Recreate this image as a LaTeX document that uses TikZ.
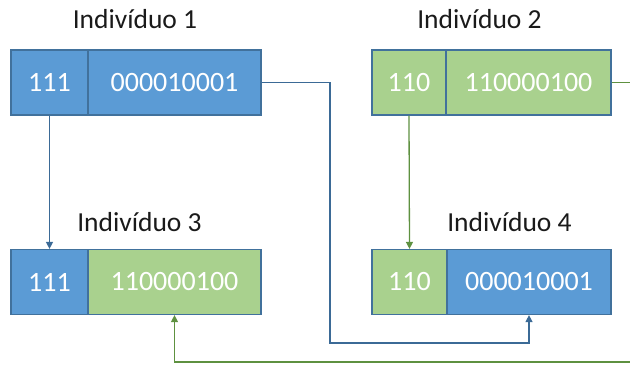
\documentclass[tikz,border=0pt]{standalone}
\usepackage{fontspec}
\setmainfont{Carlito}
\usetikzlibrary{arrows.meta}
\definecolor{cellblue}{HTML}{5B9BD5}
\definecolor{cellgreen}{HTML}{A9D18E}
\definecolor{celledge}{HTML}{41719C}
\definecolor{wireblue}{HTML}{3B6A96}
\definecolor{wiregreen}{HTML}{5E9140}
\definecolor{labeltext}{HTML}{1A1A1A}
\begin{document}
\begin{tikzpicture}[x=1pt,y=-1pt,
  cell/.style={draw=celledge, line width=1.2pt, inner sep=0pt,
    minimum height=65pt, text=white,
    font=\fontsize{28}{28}\selectfont},
  bluecell/.style={cell, fill=cellblue},
  greencell/.style={cell, fill=cellgreen},
  title/.style={anchor=base, text=labeltext, inner sep=0pt,
    font=\fontsize{27.5}{27.5}\selectfont},
  wire/.style={line width=1.3pt, -{Triangle[length=7pt,width=7pt]}}]
\useasboundingbox (0,0) rectangle (630,365);
\clip (0,0) rectangle (630,365);

% titles
\node[title] (t1) at (135,28) {Indivíduo 1};
\node[title] (t2) at (479.5,28) {Indivíduo 2};
\node[title] (t3) at (139.5,231) {Indivíduo 3};
\node[title] (t4) at (509.5,231) {Indivíduo 4};

% parents
\node[bluecell, minimum width=77pt] (i1a) at (49.5,82.5) {111};
\node[bluecell, minimum width=173pt] (i1b) at (174.5,82.5) {000010001};
\node[greencell, minimum width=74pt] (i2a) at (409,82.5) {110};
\node[greencell, minimum width=165pt] (i2b) at (528.5,82.5) {110000100};

% offspring
\node[bluecell, minimum width=77pt] (i3a) at (49.5,282) {111};
\node[greencell, minimum width=173pt] (i3b) at (174.5,282) {110000100};
\node[greencell, minimum width=75pt] (i4a) at (409.5,282) {110};
\node[bluecell, minimum width=164pt] (i4b) at (529,282) {000010001};

% bend points of the crossing wires
\coordinate (b1) at (330,343);
\coordinate (b2) at (648,362);

% heads
\draw[wire, wireblue] (i1a.south) -- (i3a.north);
\draw[wire, wiregreen] (i2a.south) -- (i4a.north);

% tails
\draw[wire, wireblue] (i1b.east) -| (b1) -| (i4b.south);
\draw[wire, wiregreen] (i2b.east) -| (b2) -| (i3b.south);
\end{tikzpicture}
\end{document}
